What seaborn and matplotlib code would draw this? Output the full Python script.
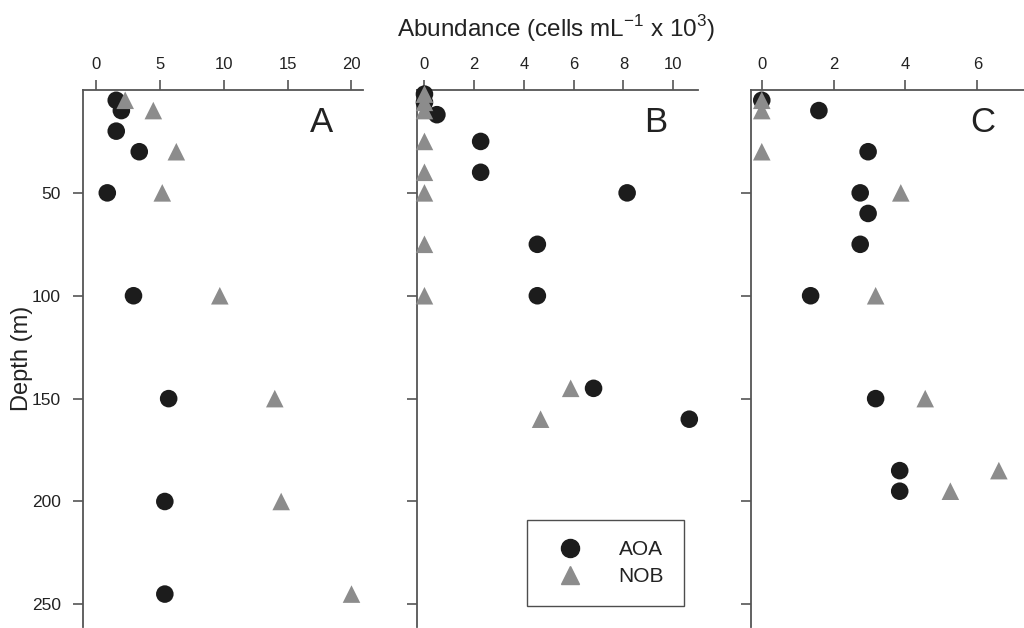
import pandas as pd
import matplotlib.pyplot as plt
import seaborn as sns
from matplotlib.lines import Line2D

# Settings
sns.set_theme(style="white")
plt.rcParams['font.family'] = ['Liberation Sans', 'DejaVu Sans']

# Data (x = abundance, cells mL-1 x 10^3; depth in m)
a_aoa_x = [1.6, 2.0, 1.6, 3.4, 0.9, 2.95, 5.7, 5.4, 5.4]
a_aoa_depth = [5, 10, 20, 30, 50, 100, 150, 200, 245]
a_nob_x = [2.3, 4.5, 6.3, 5.2, 9.7, 14.0, 14.5, 20.0]
a_nob_depth = [5, 10, 30, 50, 100, 150, 200, 245]

b_aoa_x = [0.0, 0.0, 0.5, 2.26, 2.26, 8.15, 4.54, 4.54, 6.8, 10.65]
b_aoa_depth = [2, 6, 12, 25, 40, 50, 75, 100, 145, 160]
b_nob_x = [0.0, 0.0, 0.0, 0.0, 0.0, 0.0, 0.0, 0.0, 5.88, 4.67]
b_nob_depth = [2, 6, 10, 25, 40, 50, 75, 100, 145, 160]

c_aoa_x = [0.0, 1.59, 2.96, 2.74, 2.96, 2.74, 1.36, 3.17, 3.84, 3.84]
c_aoa_depth = [5, 10, 30, 50, 60, 75, 100, 150, 185, 195]
c_nob_x = [0.0, 0.0, 0.0, 3.87, 3.17, 4.55, 6.6, 5.25]
c_nob_depth = [5, 10, 30, 50, 100, 150, 185, 195]

panel_labels = ['A', 'B', 'C']
x_limits = [(-1.0, 20.9), (-0.3, 11.0), (-0.3, 7.3)]
x_ticks = [[0, 5, 10, 15, 20], [0, 2, 4, 6, 8, 10], [0, 2, 4, 6]]
y_ticks = [50, 100, 150, 200, 250]


def make_frame(aoa_x, aoa_depth, nob_x, nob_depth):
    aoa = pd.DataFrame({'abundance': aoa_x, 'depth': aoa_depth, 'group': 'AOA'})
    nob = pd.DataFrame({'abundance': nob_x, 'depth': nob_depth, 'group': 'NOB'})
    # NOB last so the triangles sit on top of the circles
    return pd.concat([aoa, nob], ignore_index=True)


frames = [
    make_frame(a_aoa_x, a_aoa_depth, a_nob_x, a_nob_depth),
    make_frame(b_aoa_x, b_aoa_depth, b_nob_x, b_nob_depth),
    make_frame(c_aoa_x, c_aoa_depth, c_nob_x, c_nob_depth),
]

palette = {'AOA': '#1c1c1c', 'NOB': '#8c8c8c'}
markers = {'AOA': 'o', 'NOB': '^'}
spine_col = '#555555'
text_col = '#222222'

fig = plt.figure(figsize=(10.24, 6.28), dpi=100)
lefts = [83, 417, 751]
rights = [363, 698, 1024]
for i, df in enumerate(frames):
    l, r = lefts[i], rights[i]
    ax = fig.add_axes([l / 1024, 1 / 628, (r - l) / 1024, (627 - 90) / 628])
    sns.scatterplot(data=df, x='abundance', y='depth', hue='group', style='group',
                    palette=palette, markers=markers, s=160, linewidth=0,
                    hue_order=['AOA', 'NOB'], style_order=['AOA', 'NOB'],
                    legend=False, ax=ax, zorder=3, clip_on=False)
    ax.set_xlim(*x_limits[i])
    ax.set_ylim(261, 0)
    ax.set_xticks(x_ticks[i])
    ax.set_yticks(y_ticks)
    ax.xaxis.tick_top()
    ax.tick_params(axis='x', direction='out', length=7, width=1.2, color=spine_col,
                   labelsize=12, labelcolor=text_col, pad=6, top=True, bottom=False)
    ax.tick_params(axis='y', direction='out', length=7, width=1.2, color=spine_col,
                   labelsize=12.5, labelcolor=text_col, pad=9, left=True)
    if i > 0:
        ax.set_yticklabels([])
    ax.set_xlabel('')
    ax.set_ylabel('')
    for side in ['right', 'bottom']:
        ax.spines[side].set_visible(False)
    for side in ['top', 'left']:
        ax.spines[side].set_color(spine_col)
        ax.spines[side].set_linewidth(1.3)
    ax.text(0.85, 0.94, panel_labels[i], transform=ax.transAxes, fontsize=25,
            color=text_col, ha='center', va='center')

fig.text(556 / 1024, 1 - 29 / 628,
         r'Abundance (cells mL$^{\mathregular{-1}}$ x 10$^{\mathregular{3}}$)',
         fontsize=17.5, color=text_col, ha='center', va='center')
fig.text(22 / 1024, 1 - 358 / 628, 'Depth (m)', fontsize=17, color=text_col,
         rotation=90, ha='center', va='center')

# Legend inside panel B
handles = [Line2D([], [], marker=markers[g], color=palette[g], linestyle='',
                  markersize=13) for g in ['AOA', 'NOB']]
leg = fig.legend(handles, ['AOA', 'NOB'], loc='upper left',
                 bbox_to_anchor=(527 / 1024, 1 - 520 / 628), borderaxespad=0,
                 fontsize=15, frameon=True, fancybox=False, edgecolor='#222222',
                 handletextpad=1.25, borderpad=0.95, labelspacing=0.4, handlelength=2.2)
leg.get_frame().set_linewidth(1.0)
for t in leg.get_texts():
    t.set_color(text_col)

plt.savefig('out.png', dpi=100)
plt.close()
